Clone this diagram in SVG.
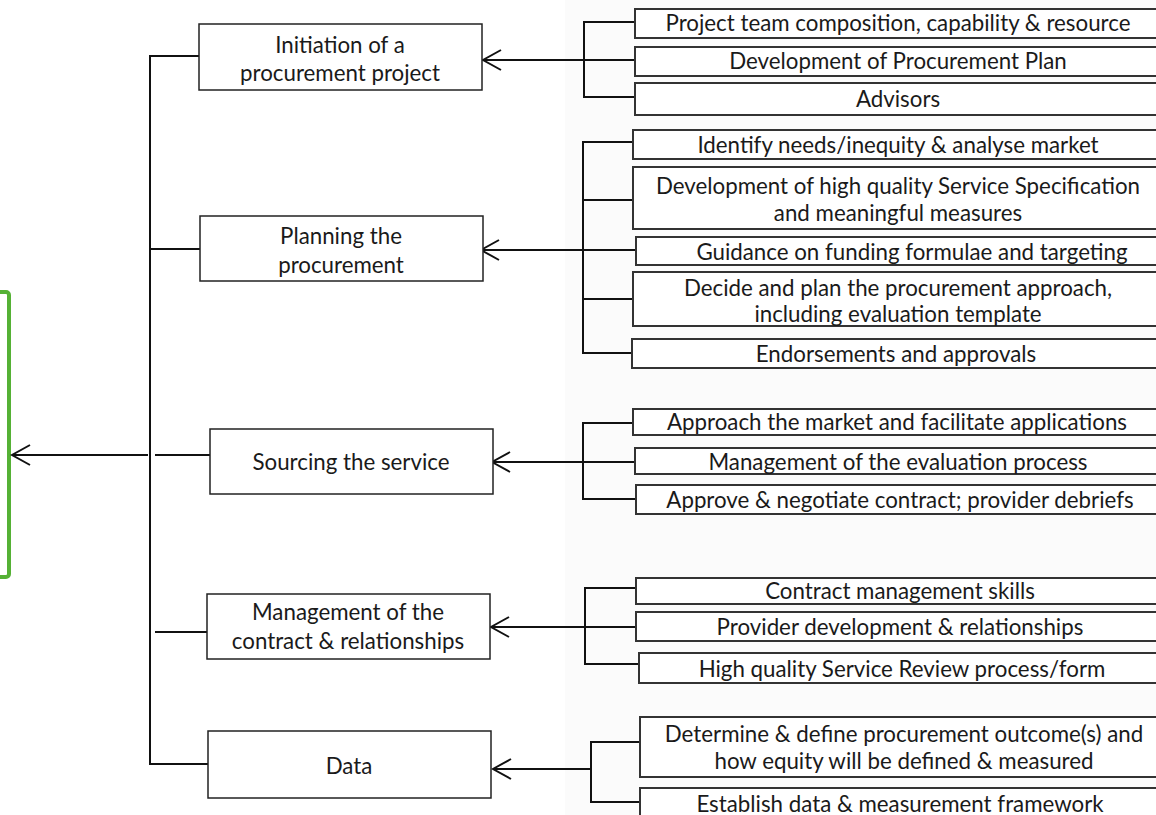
<svg xmlns="http://www.w3.org/2000/svg" width="1156" height="815" viewBox="0 0 1156 815">
<style>
  .main { fill: #ffffff; stroke: #222; stroke-width: 1.5; }
  .sub { fill: #ffffff; stroke: #333; stroke-width: 2; }
  .t { font-family: Lato, "Liberation Sans", sans-serif; font-size: 22.3px; fill: #1a1a1a; text-anchor: middle; }
  .c { fill: none; stroke: #111; stroke-width: 2; }
</style>
<defs>
  <marker id="arr" markerUnits="userSpaceOnUse" viewBox="0 0 22 24" refX="20" refY="12" markerWidth="22" markerHeight="24" orient="auto">
    <path d="M2,2 L20,12 L2,22" fill="none" stroke="#111" stroke-width="2"/>
  </marker>
</defs>
<rect x="0" y="0" width="1156" height="815" fill="#ffffff"/>
<rect x="565" y="0" width="591" height="815" fill="#fbfbfb"/>

<g id="goal">
  <rect x="-12" y="292" width="21" height="285" rx="3" fill="none" stroke="#55b135" stroke-width="4"/>
</g>

<g id="connectors">
  <path class="c" d="M199,56 H150 V764 H208"/>
  <path class="c" d="M150,249 H200"/>
  <path class="c" d="M155,455 H210"/>
  <path class="c" d="M155,632 H207"/>
  <path class="c" d="M148,455 H12" marker-end="url(#arr)"/>
  <path class="c" d="M635,22 H584 V97 H635"/>
  <path class="c" d="M584,60 H635"/>
  <path class="c" d="M584,60 H483" marker-end="url(#arr)"/>
  <path class="c" d="M633,142 H583 V353 H632"/>
  <path class="c" d="M583,200 H633"/>
  <path class="c" d="M583,250 H636"/>
  <path class="c" d="M583,299 H633"/>
  <path class="c" d="M583,250 H481" marker-end="url(#arr)"/>
  <path class="c" d="M633,423 H583 V499 H636"/>
  <path class="c" d="M583,462 H635"/>
  <path class="c" d="M583,462 H492" marker-end="url(#arr)"/>
  <path class="c" d="M636,588 H585 V664 H639"/>
  <path class="c" d="M585,627 H636"/>
  <path class="c" d="M585,627 H491" marker-end="url(#arr)"/>
  <path class="c" d="M640,742 H591 V802 H640"/>
  <path class="c" d="M591,769 H493" marker-end="url(#arr)"/>
</g>

<g id="n-initiation">
  <rect class="main" x="199" y="24" width="283" height="66"/>
  <text class="t" x="340" y="53">Initiation of a</text>
  <text class="t" x="340" y="81">procurement project</text>
</g>
<g id="n-planning">
  <rect class="main" x="200" y="216" width="283" height="65"/>
  <text class="t" x="341" y="244">Planning the</text>
  <text class="t" x="341" y="273">procurement</text>
</g>
<g id="n-sourcing">
  <rect class="main" x="210" y="429" width="283" height="65"/>
  <text class="t" x="351" y="470">Sourcing the service</text>
</g>
<g id="n-management">
  <rect class="main" x="207" y="594" width="283" height="65"/>
  <text class="t" x="348" y="620">Management of the</text>
  <text class="t" x="348" y="649">contract &amp; relationships</text>
</g>
<g id="n-data">
  <rect class="main" x="208" y="731" width="283" height="67"/>
  <text class="t" x="349" y="774">Data</text>
</g>

<g id="s-team">
  <rect class="sub" x="635" y="9" width="540" height="29"/>
  <text class="t" x="898" y="31">Project team composition, capability &amp; resource</text>
</g>
<g id="s-plan">
  <rect class="sub" x="635" y="47" width="540" height="29"/>
  <text class="t" x="898" y="69">Development of Procurement Plan</text>
</g>
<g id="s-advisors">
  <rect class="sub" x="635" y="83" width="540" height="32"/>
  <text class="t" x="898" y="107">Advisors</text>
</g>
<g id="s-identify">
  <rect class="sub" x="633" y="130" width="540" height="29"/>
  <text class="t" x="898" y="153">Identify needs/inequity &amp; analyse market</text>
</g>
<g id="s-spec">
  <rect class="sub" x="633" y="167" width="540" height="62"/>
  <text class="t" x="898" y="194">Development of high quality Service Specification</text>
  <text class="t" x="898" y="221">and meaningful measures</text>
</g>
<g id="s-funding">
  <rect class="sub" x="636" y="237" width="540" height="28"/>
  <text class="t" x="912" y="260">Guidance on funding formulae and targeting</text>
</g>
<g id="s-decide">
  <rect class="sub" x="633" y="272" width="540" height="54"/>
  <text class="t" x="898" y="296">Decide and plan the procurement approach,</text>
  <text class="t" x="898" y="322">including evaluation template</text>
</g>
<g id="s-endorse">
  <rect class="sub" x="632" y="339" width="540" height="29"/>
  <text class="t" x="896" y="362">Endorsements and approvals</text>
</g>
<g id="s-approach">
  <rect class="sub" x="633" y="409" width="540" height="26"/>
  <text class="t" x="897" y="430">Approach the market and facilitate applications</text>
</g>
<g id="s-evaluation">
  <rect class="sub" x="635" y="448" width="540" height="26"/>
  <text class="t" x="898" y="470">Management of the evaluation process</text>
</g>
<g id="s-approve">
  <rect class="sub" x="636" y="485" width="540" height="29"/>
  <text class="t" x="900" y="508">Approve &amp; negotiate contract; provider debriefs</text>
</g>
<g id="s-skills">
  <rect class="sub" x="636" y="578" width="540" height="26"/>
  <text class="t" x="900" y="599">Contract management skills</text>
</g>
<g id="s-provider">
  <rect class="sub" x="636" y="612" width="540" height="29"/>
  <text class="t" x="900" y="635">Provider development &amp; relationships</text>
</g>
<g id="s-review">
  <rect class="sub" x="639" y="653" width="540" height="30"/>
  <text class="t" x="902" y="677">High quality Service Review process/form</text>
</g>
<g id="s-outcome">
  <rect class="sub" x="640" y="717" width="540" height="60"/>
  <text class="t" x="904" y="742">Determine &amp; define procurement outcome(s) and</text>
  <text class="t" x="904" y="769">how equity will be defined &amp; measured</text>
</g>
<g id="s-framework">
  <rect class="sub" x="640" y="788" width="540" height="40"/>
  <text class="t" x="900" y="812">Establish data &amp; measurement framework</text>
</g>
</svg>
